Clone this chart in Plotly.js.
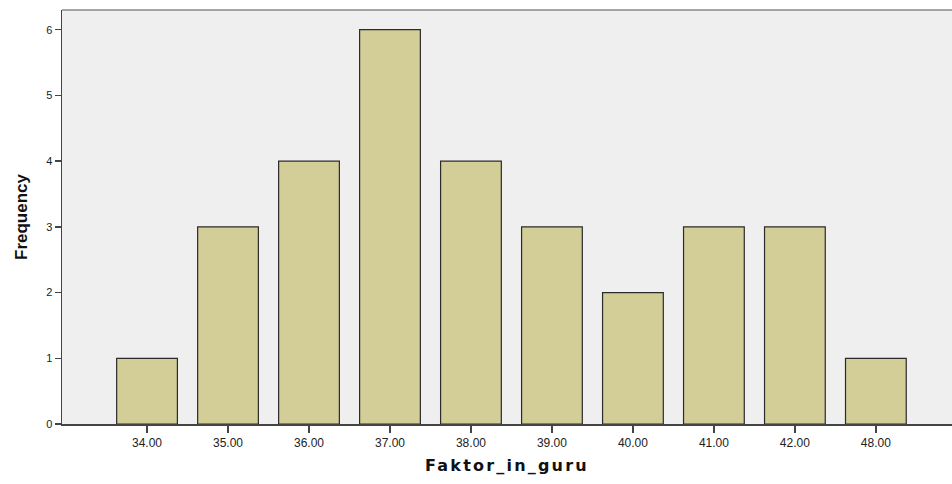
<!DOCTYPE html>
<html><head><meta charset="utf-8">
<script src="https://cdn.plot.ly/plotly-3.0.1.min.js"></script>
<style>html,body{margin:0;padding:0;background:#fff;}#chart{width:952px;height:484px;}</style>
</head><body><div id="chart"></div>
<script>
const categories = ["34.00","35.00","36.00","37.00","38.00","39.00","40.00","41.00","42.00","48.00"];
const frequency = [1,3,4,6,4,3,2,3,3,1];
const yTicks = [0,1,2,3,4,5,6];

const trace = {
  type: 'bar', x: categories, y: frequency, width: 0.75,
  marker: {color: '#D3CE98', line: {color: '#2b2b2b', width: 1.2}},
  hoverinfo: 'x+y'
};
const layout = {
  width: 952, height: 484,
  margin: {l: 62, r: 0, t: 10, b: 60},
  paper_bgcolor: '#ffffff', plot_bgcolor: '#EFEFEF',
  showlegend: false,
  font: {family: 'Liberation Sans, Arial, sans-serif', color: '#222'},
  xaxis: {
    type: 'category', range: [-1.05, 9.94],
    showline: true, linecolor: '#444', linewidth: 1.5,
    ticks: 'outside', ticklen: 7, tickcolor: '#444', tickwidth: 1.5,
    tickfont: {size: 12, color: '#222'}, showgrid: false,
    title: {text: '<b><span style="letter-spacing:2.2px">Faktor_in_guru</span></b>', font: {size: 16, family: 'DejaVu Sans, Verdana, sans-serif', color: '#111'}, standoff: 11}
  },
  yaxis: {
    range: [0, 6.3], tickvals: yTicks,
    showline: true, linecolor: '#444', linewidth: 1.5,
    ticks: 'outside', ticklen: 6, tickcolor: '#444', tickwidth: 1.5,
    tickfont: {size: 11, color: '#222'}, showgrid: false, zeroline: false,
    title: {text: '<b>Frequency</b>', font: {size: 17, color: '#111'}, standoff: 14}
  },
  shapes: [{type: 'line', xref: 'paper', yref: 'paper', x0: 0, x1: 1, y0: 1, y1: 1,
            line: {color: '#888', width: 1.5}}]
};
Plotly.newPlot('chart', [trace], layout, {displayModeBar: false, staticPlot: true});
</script></body></html>
